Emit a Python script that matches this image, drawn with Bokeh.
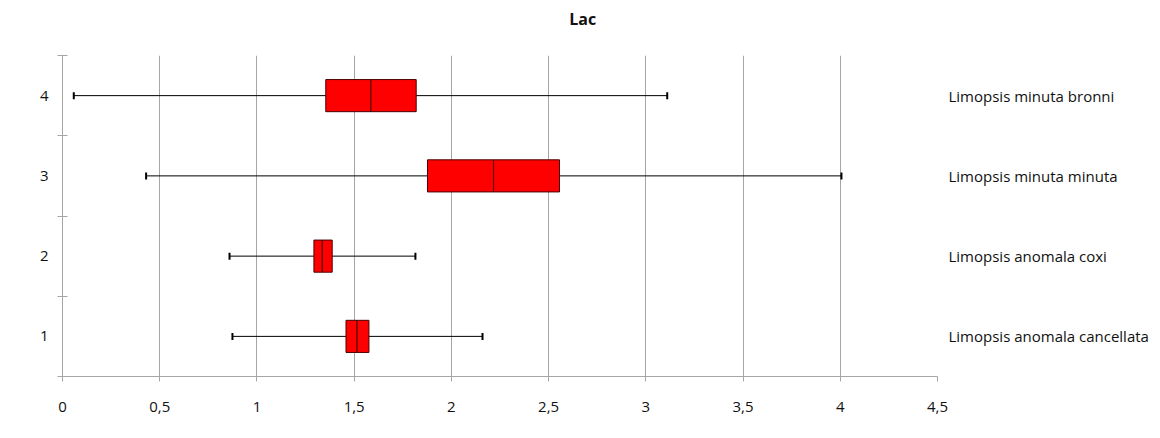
from bokeh.plotting import figure
from bokeh.models import FixedTicker, LinearAxis, Range1d, ColumnDataSource
from bokeh.embed import file_html
from bokeh.resources import INLINE

categories = [1, 2, 3, 4]
names = ["Limopsis anomala cancellata", "Limopsis anomala coxi",
         "Limopsis minuta minuta", "Limopsis minuta bronni"]
mins = [0.874, 0.859, 0.43, 0.058]
q1 = [1.458, 1.293, 1.877, 1.354]
med = [1.515, 1.336, 2.217, 1.586]
q3 = [1.576, 1.387, 2.556, 1.819]
maxs = [2.16, 1.815, 4.006, 3.11]
x_ticks = [0, 0.5, 1, 1.5, 2, 2.5, 3, 3.5, 4, 4.5]
x_tick_labels = ["0", "0,5", "1", "1,5", "2", "2,5", "3", "3,5", "4", "4,5"]
title_text = "Lac"
title_pos = 2.675  # title is centred on the whole chart, not on the plot area

FONT = "Open Sans"
GRID = "#a6a6a6"
TXT = "#111111"
FS = "15px"

src = ColumnDataSource(dict(y=categories, mins=mins, q1=q1, med=med, q3=q3, maxs=maxs))

p = figure(width=1152, height=430, output_backend="svg", toolbar_location=None,
           x_range=Range1d(0, 4.5), y_range=Range1d(0.5, 4.5),
           min_border_left=62, min_border_right=215, min_border_top=55, min_border_bottom=54)
p.outline_line_color = None

# x axis (below)
xa = p.below[0]
xa.ticker = FixedTicker(ticks=x_ticks)
xa.major_label_overrides = {t: l for t, l in zip(x_ticks, x_tick_labels)}
xa.axis_line_color = GRID
xa.major_tick_line_color = GRID
xa.major_tick_in = 0
xa.major_tick_out = 5
xa.minor_tick_line_color = None
xa.major_label_standoff = 20
xa.major_label_text_font = FONT
xa.major_label_text_font_size = FS
xa.major_label_text_color = TXT

# title drawn as a single label on an invisible axis above
ta = LinearAxis(ticker=FixedTicker(ticks=[title_pos]),
                major_label_overrides={title_pos: title_text})
ta.axis_line_color = None
ta.major_tick_line_color = None
ta.minor_tick_line_color = None
ta.major_label_standoff = 20
ta.major_label_text_font = FONT
ta.major_label_text_font_size = "16px"
ta.major_label_text_font_style = "bold"
ta.major_label_text_color = TXT
p.add_layout(ta, "above")

# left y axis
ya = p.left[0]
ya.ticker = FixedTicker(ticks=categories, minor_ticks=[0.5, 1.5, 2.5, 3.5, 4.5])
ya.axis_line_color = GRID
ya.major_tick_line_color = None
ya.minor_tick_line_color = GRID
ya.minor_tick_in = 5
ya.minor_tick_out = 5
ya.major_label_standoff = 8
ya.major_label_text_font = FONT
ya.major_label_text_font_size = FS
ya.major_label_text_color = TXT

# right axis with series names
ra = LinearAxis(ticker=FixedTicker(ticks=categories),
                major_label_overrides={c: n for c, n in zip(categories, names)})
ra.axis_line_color = None
ra.major_tick_line_color = None
ra.minor_tick_line_color = None
ra.major_label_standoff = 5
ra.major_label_text_font = FONT
ra.major_label_text_font_size = FS
ra.major_label_text_color = TXT
p.add_layout(ra, "right")

p.xgrid.ticker = FixedTicker(ticks=x_ticks)
p.xgrid.grid_line_color = GRID
p.ygrid.grid_line_color = None

# whiskers
p.segment(x0="mins", y0="y", x1="maxs", y1="y", source=src, line_color="black", line_width=1)
p.rect(x="mins", y="y", width=2, height=7, width_units="screen", height_units="screen",
       source=src, fill_color="black", line_color=None)
p.rect(x="maxs", y="y", width=2, height=7, width_units="screen", height_units="screen",
       source=src, fill_color="black", line_color=None)

# boxes
p.hbar(y="y", left="q1", right="med", height=0.4, source=src,
       fill_color="#ff0000", line_color="#4a0000", line_width=1)
p.hbar(y="y", left="med", right="q3", height=0.4, source=src,
       fill_color="#ff0000", line_color="#4a0000", line_width=1)

open("out.html", "w").write(file_html(p, INLINE))
